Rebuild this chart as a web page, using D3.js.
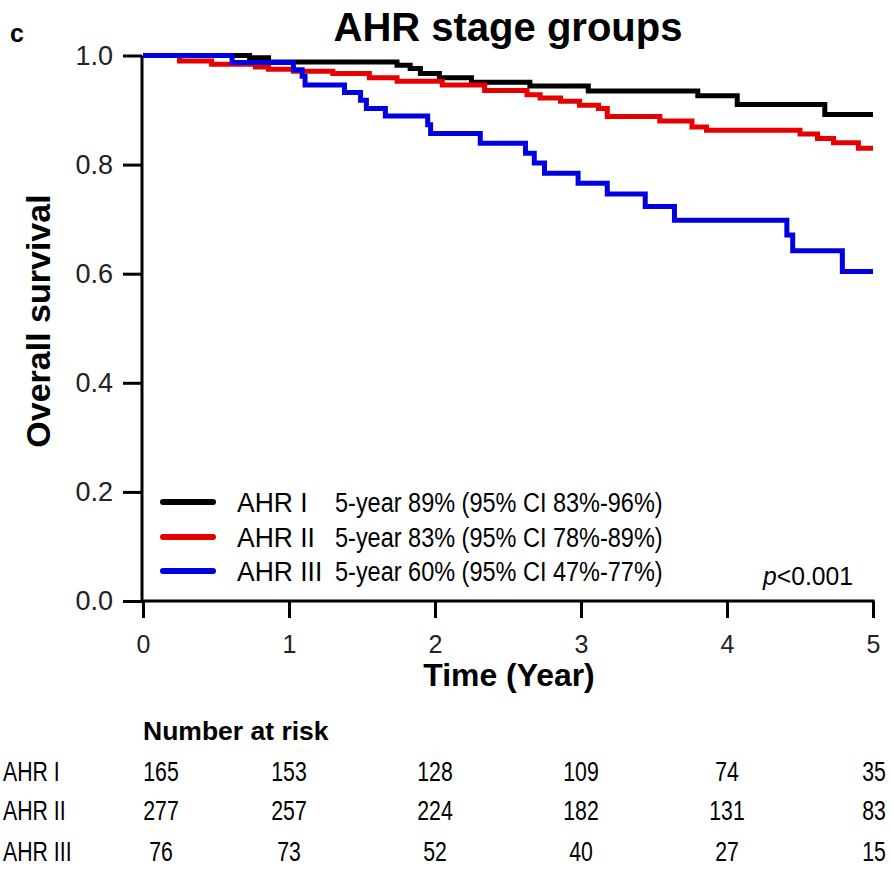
<!DOCTYPE html>
<html><head><meta charset="utf-8">
<script src="https://cdn.jsdelivr.net/npm/d3@7"></script>
<style>body{margin:0;background:#fff} svg{display:block}</style>
</head><body>
<script>
// ---- data ----
const groups = ["AHR I", "AHR II", "AHR III"];
const colors = ["#000000", "#e60000", "#0000e0"];
const ahr1 = [[0,1.0],[0.73,0.996],[0.86,0.988],[1.74,0.982],[1.83,0.976],[1.90,0.967],[2.03,0.959],[2.25,0.951],[2.65,0.944],[3.05,0.935],[3.80,0.926],[4.07,0.910],[4.67,0.892],[5.0,0.892]];
const ahr2 = [[0,1.0],[0.25,0.990],[0.47,0.984],[0.77,0.979],[0.86,0.975],[1.03,0.971],[1.30,0.967],[1.55,0.959],[1.74,0.953],[2.05,0.946],[2.34,0.936],[2.63,0.928],[2.72,0.922],[2.86,0.916],[2.99,0.909],[3.12,0.903],[3.18,0.888],[3.54,0.880],[3.76,0.869],[3.86,0.863],[4.50,0.856],[4.62,0.848],[4.73,0.840],[4.90,0.830],[5.0,0.830]];
const ahr3 = [[0,1.0],[0.61,0.987],[1.03,0.974],[1.09,0.962],[1.11,0.946],[1.38,0.932],[1.49,0.918],[1.53,0.903],[1.66,0.889],[1.95,0.873],[1.97,0.857],[2.31,0.839],[2.62,0.821],[2.68,0.803],[2.75,0.784],[2.98,0.766],[3.18,0.746],[3.44,0.723],[3.64,0.698],[4.41,0.671],[4.45,0.642],[4.79,0.604],[5.0,0.604]];
const legendTexts = ["5-year 89% (95% CI 83%-96%)", "5-year 83% (95% CI 78%-89%)", "5-year 60% (95% CI 47%-77%)"];
const xTicks = [0, 1, 2, 3, 4, 5];
const yTicks = [0, 0.2, 0.4, 0.6, 0.8, 1.0];
const risk1 = [165, 153, 128, 109, 74, 35];
const risk2 = [277, 257, 224, 182, 131, 83];
const risk3 = [76, 73, 52, 40, 27, 15];
const title = "AHR stage groups";
const panel = "c";
const yTitle = "Overall survival";
const xTitle = "Time (Year)";
const riskTitle = "Number at risk";

// ---- chart ----
const W = 893, H = 870;
const FONT = "'Liberation Sans', Arial, sans-serif";
const svg = d3.select("body").append("svg").attr("width", W).attr("height", H)
  .style("font-family", FONT);

const x = d3.scaleLinear().domain([0, 5]).range([143, 873]);
const y = d3.scaleLinear().domain([0, 1]).range([601, 55.5]);

function txt(str, px, py, o) {
  o = o || {};
  return svg.append("text")
    .attr("transform", `translate(${px},${py})` + (o.rot ? ` rotate(${o.rot})` : "") + ` scale(${o.sx || 1},1)`)
    .attr("text-anchor", o.anchor || "start")
    .attr("font-size", o.size || 24)
    .attr("font-weight", o.bold ? "bold" : "normal")
    .attr("fill", o.fill || "#000")
    .text(str);
}

// axes
const yAxis = d3.axisLeft(y).tickValues(yTicks).tickFormat(d3.format(".1f")).tickSize(19).tickPadding(10);
const gy = svg.append("g").attr("transform", `translate(${x(0) - 1},0)`).call(yAxis);
gy.select(".domain").attr("stroke", "#000").attr("stroke-width", 3).attr("d", `M0,${y(1)}V${y(0) + 1}`);
gy.selectAll(".tick line").attr("stroke", "#000").attr("stroke-width", 3);
gy.selectAll(".tick text").attr("font-size", 27).attr("font-family", FONT).attr("fill", "#222");

const xAxis = d3.axisBottom(x).tickValues(xTicks).tickFormat(d3.format("d")).tickSize(17).tickPadding(17);
const gx = svg.append("g").attr("transform", `translate(0,${y(0)})`).call(xAxis);
gx.select(".domain").attr("stroke", "#000").attr("stroke-width", 3).attr("d", `M${x(0) - 2},0H${x(5) + 1.5}`);
gx.selectAll(".tick line").attr("stroke", "#000").attr("stroke-width", 3);
gx.selectAll(".tick text").attr("font-size", 25).attr("font-family", FONT).attr("fill", "#222");

// curves
const line = d3.line().x(d => x(d[0])).y(d => y(d[1])).curve(d3.curveStepAfter);
[ahr1, ahr2, ahr3].forEach((s, i) => {
  svg.append("path").datum(s).attr("d", line).attr("fill", "none")
    .attr("stroke", colors[i]).attr("stroke-width", 5).attr("stroke-linejoin", "miter").attr("stroke-linecap", "butt");
});

// legend
const legY = [502, 537, 571];
groups.forEach((g, i) => {
  svg.append("line").attr("x1", 163).attr("x2", 213).attr("y1", legY[i]).attr("y2", legY[i])
    .attr("stroke", colors[i]).attr("stroke-width", 6).attr("stroke-linecap", "round");
  txt(g, 237, legY[i] + 10, {size: 27, sx: 0.98});
  txt(legendTexts[i], 335, legY[i] + 10, {size: 27, sx: 0.87});
});
// p value
const pt = svg.append("text").attr("transform", `translate(853,585) scale(0.95,1)`).attr("text-anchor", "end")
  .attr("font-size", 26);
pt.append("tspan").attr("font-style", "italic").text("p");
pt.append("tspan").text("<0.001");

// titles
txt(title, 508, 41, {size: 40, bold: true, anchor: "middle"});
txt(panel, 10, 42, {size: 25, bold: true});
txt(yTitle, 50, 321, {size: 34, bold: true, anchor: "middle", rot: -90});
txt(xTitle, 509, 686, {size: 31, bold: true, anchor: "middle", sx: 1.03});

// risk table
txt(riskTitle, 143, 740, {size: 26.5, bold: true});
const rowY = [781, 820, 861];
[risk1, risk2, risk3].forEach((r, i) => {
  txt(groups[i], 3, rowY[i], {size: 28, sx: 0.76});
  r.forEach((v, j) => {
    const cx = j === 0 ? x(0) + 18 : (j === 5 ? x(5) + 1 : x(xTicks[j]));
    txt(String(v), cx, rowY[i], {size: 28, sx: 0.76, anchor: "middle"});
  });
});
</script>
</body></html>
